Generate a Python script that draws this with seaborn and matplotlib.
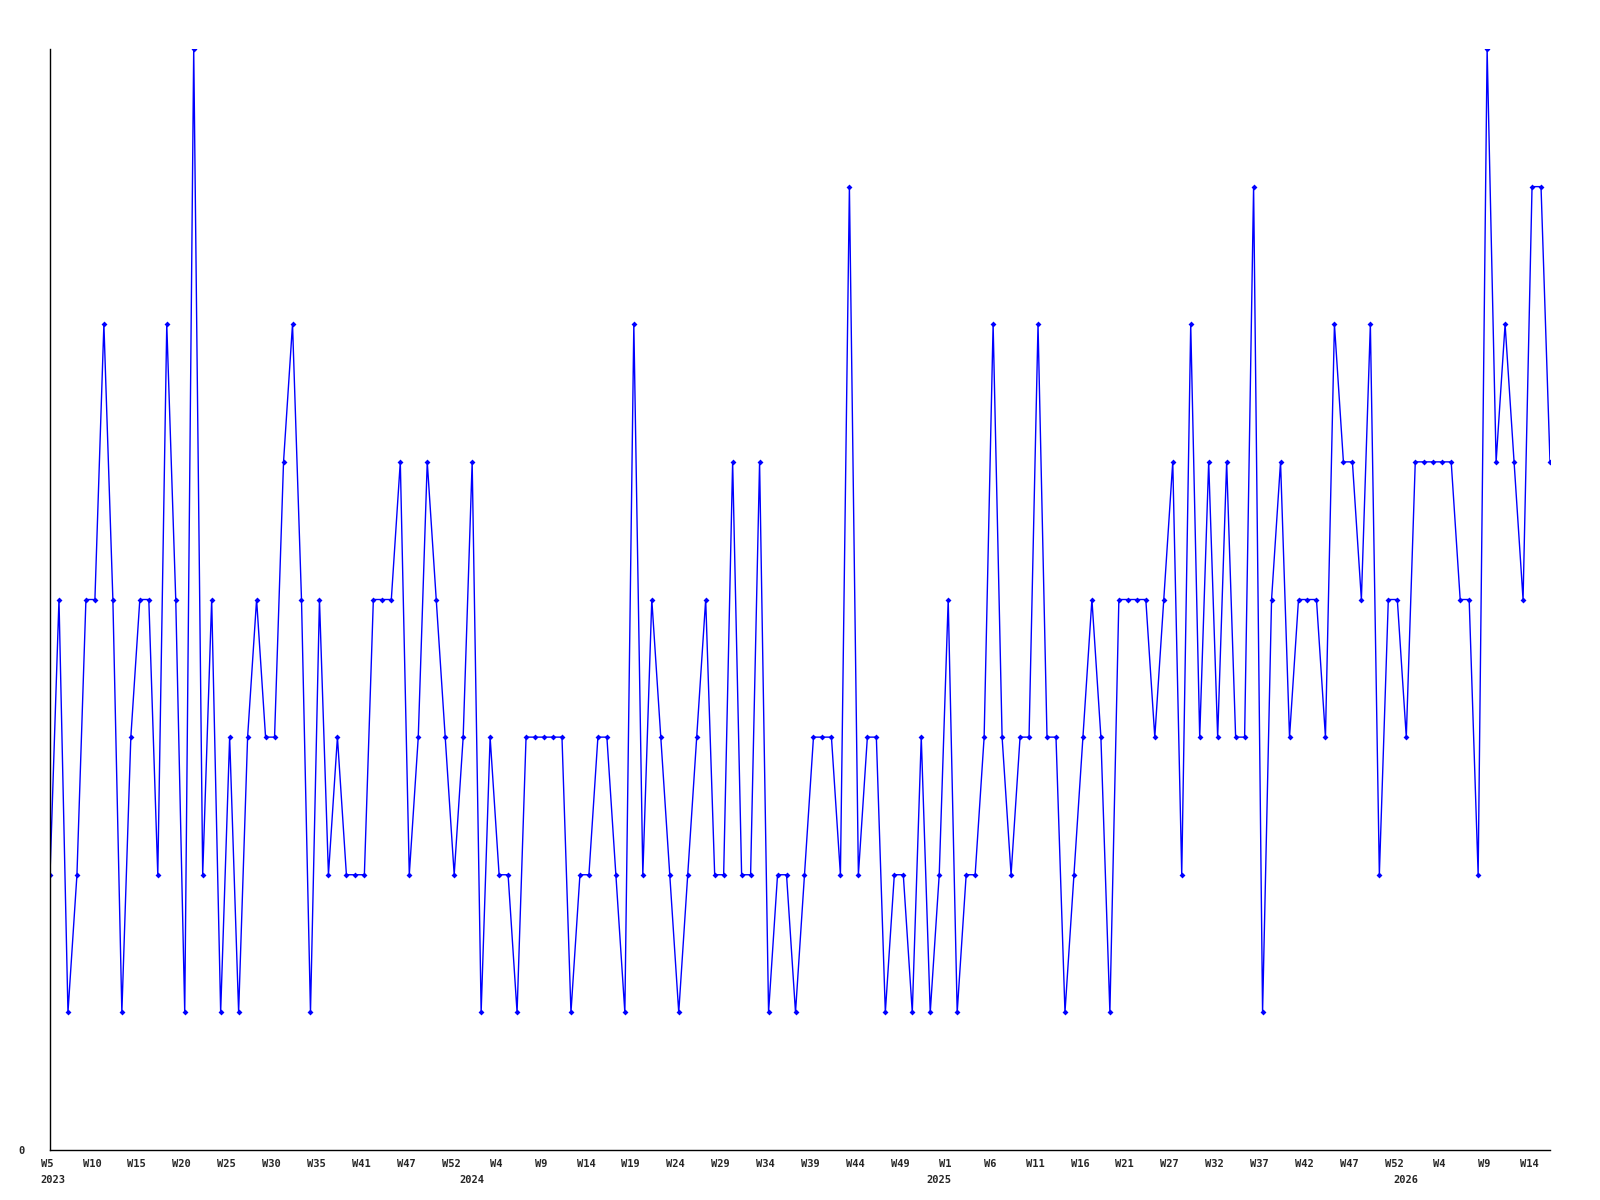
import numpy as np
import pandas as pd
import seaborn as sns
import matplotlib.pyplot as plt
from matplotlib.transforms import ScaledTranslation

# weekly counts, 2023 W5 onwards
values = [
    2, 4, 1, 2, 4, 4, 6, 4, 1, 3, 4, 4, 2, 6, 4, 1, 8, 2, 4, 1, 3, 1, 3, 4, 3, 3, 5, 6, 4,
    1, 4, 2, 3, 2, 2, 2, 4, 4, 4, 5, 2, 3, 5, 4, 3, 2, 3, 5, 1, 3, 2, 2, 1, 3, 3, 3,
    3, 3, 1, 2, 2, 3, 3, 2, 1, 6, 2, 4, 3, 2, 1, 2, 3, 4, 2, 2, 5, 2, 2, 5, 1, 2, 2, 1,
    2, 3, 3, 3, 2, 7, 2, 3, 3, 1, 2, 2, 1, 3, 1, 2, 4, 1, 2, 2, 3, 6, 3, 2, 3, 3, 6, 3,
    3, 1, 2, 3, 4, 3, 1, 4, 4, 4, 4, 3, 4, 5, 2, 6, 3, 5, 3, 5, 3, 3, 7, 1, 4, 5, 3, 4,
    4, 4, 3, 6, 5, 5, 4, 6, 2, 4, 4, 3, 5, 5, 5, 5, 5, 4, 4, 2, 8, 5, 6, 5, 4, 7, 7, 5,
]
week_labels = [
    "W5", "W10", "W15", "W20", "W25", "W30", "W35", "W41", "W47", "W52",
    "W4", "W9", "W14", "W19", "W24", "W29", "W34", "W39", "W44", "W49",
    "W1", "W6", "W11", "W16", "W21", "W27", "W32", "W37", "W42", "W47", "W52",
    "W4", "W9", "W14",
]
start_week = "2023-01-30"  # monday of ISO week 5, 2023

dates = pd.date_range(start_week, periods=len(values), freq="W-MON")
df = pd.DataFrame({"week": np.arange(len(values)), "count": values})
iso_year = dates.isocalendar().year.to_numpy()

sns.set_style("white")
plt.rcParams["font.family"] = ["DejaVu Sans Mono"]
plt.rcParams["font.weight"] = "bold"

fig = plt.figure(figsize=(16, 12), dpi=100)
ax = fig.add_axes([50 / 1600, 50 / 1200, 1500 / 1600, 1101 / 1200])

sns.lineplot(data=df, x="week", y="count", color="#0000ff", linewidth=1,
             marker="D", markersize=3, markeredgewidth=0, ax=ax)

ax.set_xlim(0, len(values) - 1)
ax.set_ylim(0, 8)
ax.set_xlabel("")
ax.set_ylabel("")

ax.set_xticks(np.arange(0, len(values), 5))
ax.set_xticklabels(week_labels, fontsize=7.5, fontweight="bold")
ax.set_yticks([0])
ax.set_yticklabels(["0"], fontsize=7.5, fontweight="bold")
ax.tick_params(axis="x", length=0, pad=6.5)
ax.tick_params(axis="y", length=0, pad=18)

# week labels sit a few pixels left of their week
shift = ScaledTranslation(-3 / 100, 0, fig.dpi_scale_trans)
for lab in ax.get_xticklabels():
    lab.set_transform(lab.get_transform() + shift)

for side in ["top", "right"]:
    ax.spines[side].set_visible(False)
for side in ["left", "bottom"]:
    ax.spines[side].set_color("black")
    ax.spines[side].set_linewidth(1)

# year labels under the first week of each year
for yr in np.unique(iso_year):
    first = int(np.argmax(iso_year == yr))
    pos = first - 1 if first > 0 else 0.3
    ax.annotate(str(yr), xy=(pos, 0), xycoords=("data", "axes fraction"),
                xytext=(0, -18), textcoords="offset points",
                ha="center", va="top", fontsize=7.5, fontweight="bold")

fig.savefig("out.png", dpi=100, facecolor="white")
